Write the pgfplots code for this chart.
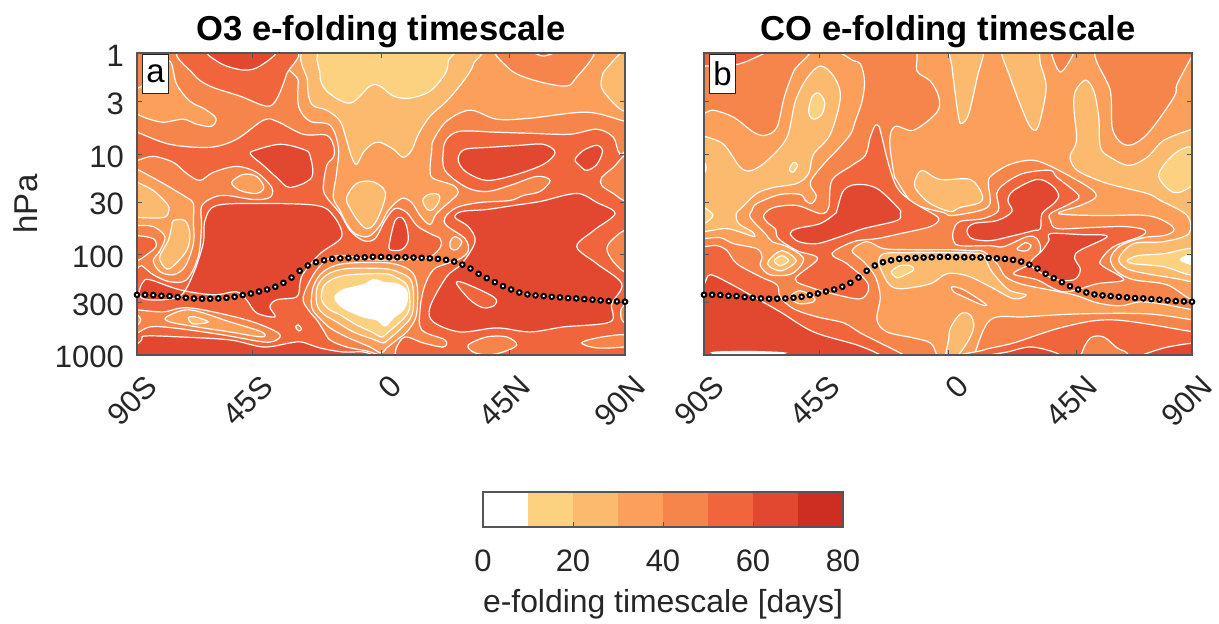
\documentclass[border=0pt]{standalone}
\usepackage{pgfplots}
\usepackage{pgfplotstable}
\usepackage{fontspec}
\setmainfont{Liberation Sans}
\pgfplotsset{compat=1.18}

\definecolor{lev1}{HTML}{FFFFFF}
\definecolor{lev2}{HTML}{FCD17F}
\definecolor{lev3}{HTML}{FBBA6E}
\definecolor{lev4}{HTML}{FB9F5A}
\definecolor{lev5}{HTML}{F6854C}
\definecolor{lev6}{HTML}{F0653B}
\definecolor{lev7}{HTML}{E2472F}
\definecolor{lev8}{HTML}{CE2E21}
\definecolor{txt}{HTML}{262626}
\definecolor{frame}{HTML}{555555}

% tropopause pressure, log10(hPa) against latitude
\pgfplotstableread{
lat logp
-90 2.400
-87 2.400
-84 2.403
-81 2.410
-78 2.413
-75 2.423
-72 2.430
-69 2.436
-66 2.439
-63 2.439
-60 2.436
-57 2.430
-54 2.420
-51 2.403
-48 2.387
-45 2.367
-42 2.347
-39 2.320
-36 2.281
-33 2.228
-30 2.161
-27 2.108
-24 2.075
-21 2.056
-18 2.042
-15 2.036
-12 2.032
-9 2.029
-6 2.026
-3 2.022
0 2.022
3 2.026
6 2.026
9 2.026
12 2.029
15 2.032
18 2.036
21 2.042
24 2.052
27 2.069
30 2.099
33 2.138
36 2.191
39 2.234
42 2.274
45 2.314
48 2.347
51 2.377
54 2.396
57 2.406
60 2.413
63 2.420
66 2.426
69 2.433
72 2.436
75 2.443
78 2.449
81 2.456
84 2.463
87 2.466
90 2.469
}\tropo

\newcommand\reg[2]{\addplot[cont,fill=#1] coordinates {#2};}
\newcommand\ticksize{\fontsize{15.5}{18}\selectfont}

\pgfplotsset{
  cont/.style={draw=white,line width=0.6pt,smooth cycle,tension=0.55},
  panel/.style={
    scale only axis,width=244pt,height=151pt,
    xmin=-90,xmax=90,ymin=-0.01,ymax=3,y dir=reverse,
    axis on top,
    axis line style={frame,line width=0.6pt},
    tick align=inside,major tick length=2.5pt,
    tick style={frame,line width=0.5pt},
    xtick={-90,-47.5,0,47.5,90},
    xticklabels={90S,45S,0,45N,90N},
    ytick={0,0.477,1,1.477,2,2.477,3},
    tick label style={font=\ticksize,text=txt},
    x tick label style={rotate=45,anchor=east,xshift=-0.4pt,yshift=-14.5pt},
    y tick label style={xshift=-3pt,yshift=-1pt},
    title style={font=\fontsize{17.3}{20}\selectfont\bfseries,text=black,yshift=-7pt},
  },
  tp/.style={only marks,mark=*,mark size=1.15pt,
    mark options={fill=white,draw=black,line width=1pt}},
}

\begin{document}
\begin{tikzpicture}
\path[use as bounding box] (-68.5pt,-134.5pt) rectangle (541pt,177.5pt);

% ---------- panel a ----------
\begin{axis}[panel,title={O3 e-folding timescale},
  axis background/.style={fill=lev5},
  yticklabels={\raisebox{-1pt}{1},3,10,30,100,300,1000},
  ylabel={hPa},
  ylabel style={font=\fontsize{16.5}{18}\selectfont,text=txt,at={(axis description cs:-0.228,0.5)},anchor=center}]
% 30-40 days: top and centre
\reg{lev4}{(-29,-.08)(-30.5,.27)(-30.3,.53)(-26.2,.67)(-18.8,.71)(-15.7,.93)(-16.4,1.19)(-17.6,1.43)(-15.1,1.56)(-12.7,1.69)(-9.6,1.79)(-4.7,1.82)(-.4,1.71)(2.7,1.56)(7.6,1.44)(11.3,1.48)(14.4,1.61)(18.1,1.70)(20.5,1.59)(26.7,1.44)(28.5,1.38)(26.7,1.31)(19.3,1.24)(18.1,1.16)(18.7,.96)(19.3,.86)(24.2,.67)(32.8,.56)(42.7,.65)(55,.64)(75.9,.58)(90,.67)(96,.68)(96,-.08)}
\reg{lev4}{(-92.6,.40)(-85.2,.27)(-78.1,.07)(-75.4,.30)(-70.5,.47)(-64.9,.55)(-60.9,.64)(-62.5,.72)(-68,.70)(-72.9,.65)(-80.3,.68)(-86.5,.64)(-89.9,.60)(-92.6,.58)}
\reg{lev3}{(-25,-.08)(-27.1,.27)(-25.6,.50)(-20,.56)(-15.1,.67)(-12.7,.86)(-10.8,1.03)(-9,1.10)(-6.5,.98)(-3.4,.90)(-.4,.88)(4.6,.95)(8.2,1.03)(11.3,.96)(13.8,.80)(18.1,.62)(24.2,.47)(30.4,.27)(34.1,.10)(33.1,-.08)}
\reg{lev2}{(-19.4,-.08)(-22.5,.2)(-20,.37)(-11.4,.49)(-4.1,.32)(-.4,.32)(4.6,.42)(10.7,.44)(18.1,.37)(23.6,.20)(24.8,.07)(24.6,-.08)}
\reg{lev5}{(43.3,-.08)(47,.14)(55,.25)(67.3,.32)(71.6,.25)(77.7,-.08)}
\reg{lev6}{(55,-.05)(59.9,.02)(66,-.05)}
\reg{lev3}{(91.3,-.05)(83.3,.14)(81.4,.24)(82,.37)(90,.57)(93,.3)}
\reg{lev6}{(-73.6,-.05)(-69.2,.20)(-63.1,.32)(-52,.42)(-42.2,.52)(-38.5,.45)(-34.8,.20)(-32.6,-.05)}
\reg{lev7}{(-63.7,-.05)(-59.4,.09)(-50.8,.16)(-44.6,.12)(-39.1,-.05)}
% centre blobs
\reg{lev3}{(-12.7,1.43)(-9,1.29)(-3.4,1.27)(.9,1.34)(1.5,1.44)(-1.6,1.66)(-4.7,1.74)(-7.7,1.69)(-11.4,1.54)}
\reg{lev3}{(15.4,1.46)(17.5,1.40)(21.2,1.40)(21.5,1.46)(19.3,1.55)(17.1,1.55)}
% 50-60 days: both hemispheres
\reg{lev6}{(-92.6,.76)(-89.9,.78)(-77.9,.90)(-63.1,.93)(-53.3,.85)(-43.4,.66)(-38.5,.67)(-28.7,.80)(-20,.81)(-17.3,.93)(-17.6,1.03)(-20,1.11)(-21.3,1.33)(-20,1.43)(-15.1,1.59)(-11.4,1.76)(-6.5,1.86)(-2.2,1.84)(1.5,1.66)(5.2,1.54)(9.5,1.58)(13.2,1.71)(18.1,1.79)(21.8,1.84)(22,1.92)(18.1,2.02)(9.5,2.05)(-2.8,2.05)(-16.4,2.01)(-23.7,2.15)(-28.7,2.42)(-26.8,2.55)(-23.7,2.65)(-21.3,2.75)(-18.8,2.85)(-12.7,2.92)(-2.8,2.98)(-.4,3.08)(-95,3.08)(-95,.76)}
\reg{lev6}{(62.4,1.26)(57.4,1.22)(47.6,1.31)(39,1.37)(31.6,1.33)(23.6,1.16)(23,.96)(24.2,.85)(29.2,.77)(42.7,.78)(55,.79)(69.7,.80)(79.6,.75)(85.7,.83)(88.2,1.00)(95,1.05)(95,3.1)(5.2,3.05)(5.2,3.0)(5.8,2.92)(8.9,2.82)(15.6,2.88)(23,2.92)(23.6,2.85)(15,2.75)(14.4,2.55)(16,2.32)(19.3,2.15)(24.2,2.09)(29.2,2.04)(32.2,1.96)(31,1.84)(24.2,1.71)(23.6,1.63)(27.9,1.53)(36.5,1.48)(47.6,1.46)(52.5,1.41)(58.7,1.37)}
% right edge
\reg{lev5}{(90.6,1.01)(85.7,1.13)(81.4,1.23)(81.4,1.31)(85.7,1.39)(90.6,1.46)(93,1.25)}
\reg{lev5}{(90.6,1.76)(85.7,1.84)(83.3,1.94)(85.7,2.07)(90.6,2.17)(93,1.95)}
\reg{lev5}{(90.6,2.49)(88.5,2.55)(88.8,2.65)(90.6,2.67)(93,2.55)}
% left flank
\reg{lev5}{(-92.6,1.06)(-89.9,1.06)(-84,1.02)(-76.6,1.08)(-71.7,1.19)(-66.8,1.26)(-61.9,1.18)(-53.3,1.12)(-45.9,1.18)(-40.3,1.33)(-41,1.43)(-47.1,1.45)(-56.9,1.41)(-61.9,1.43)(-66.2,1.52)(-66.2,1.72)(-67.4,2.02)(-71.7,2.25)(-77.9,2.27)(-84,2.20)(-88.3,2.11)(-89.9,2.14)(-92.6,2.15)}
\reg{lev6}{(-92.6,1.81)(-89.9,1.81)(-84,1.84)(-83,1.92)(-86.4,2.0)(-89.9,2.06)(-92.6,2.06)}
\reg{lev4}{(-92.6,1.13)(-89.9,1.15)(-80.3,1.29)(-71.7,1.43)(-69.2,1.49)(-69.2,1.66)(-69.2,1.89)(-72.3,2.12)(-76.6,2.20)(-81.5,2.17)(-84,2.06)(-81.5,1.96)(-79.7,1.82)(-84,1.72)(-89.9,1.71)(-92.6,1.71)}
\reg{lev3}{(-92.6,1.26)(-89.9,1.28)(-84,1.36)(-79,1.49)(-78.2,1.56)(-80.3,1.63)(-89.9,1.63)(-92.6,1.63)}
\reg{lev3}{(-76.6,1.66)(-72.3,1.66)(-70.5,1.79)(-71.7,1.96)(-77.9,2.14)(-80.9,2.09)(-81.5,2.01)(-78.5,1.86)(-77.2,1.72)}
\reg{lev4}{(-55.1,1.28)(-50.8,1.20)(-45.9,1.22)(-43.2,1.33)(-45.9,1.39)(-52,1.36)}
% 60-70 days
\reg{lev7}{(-48.1,1.0)(-46.5,.96)(-37.2,.90)(-28.7,.95)(-26.2,1.01)(-25.6,1.23)(-33.6,1.33)(-38.5,1.23)(-43.4,1.11)}
\reg{lev7}{(-64.9,1.66)(-60.6,1.51)(-43.4,1.49)(-23.7,1.51)(-17.6,1.61)(-14.5,1.82)(-22.5,1.99)(-28.7,2.19)(-29.9,2.29)(-31.1,2.42)(-38.5,2.45)(-41,2.52)(-39.1,2.62)(-45.9,2.58)(-49.6,2.45)(-53.3,2.37)(-61.9,2.40)(-74.2,2.35)(-85.2,2.25)(-87.7,2.27)(-89.2,2.37)(-87.7,2.44)(-80.3,2.45)(-73.6,2.40)(-69.2,2.19)(-65.6,1.89)}
\reg{lev7}{(28.5,1.03)(31,.95)(40.2,.93)(51.3,.91)(59.9,.90)(64.2,.98)(59.9,1.10)(48.8,1.21)(39,1.26)(32.2,1.19)(29.2,1.11)}
\reg{lev7}{(71.6,1.05)(74.7,.96)(79.6,.91)(81.7,.97)(79.6,1.10)(75.9,1.16)(73.2,1.11)}
\reg{lev7}{(27.3,1.63)(29.8,1.57)(39,1.55)(48.8,1.51)(58.7,1.47)(72.2,1.39)(79.6,1.48)(86.3,1.59)(78.4,1.76)(72.2,1.92)(79.6,2.09)(88.8,2.29)(85.1,2.49)(84.5,2.67)(67.3,2.72)(55,2.77)(42.7,2.73)(29.2,2.77)(19.3,2.67)(18.1,2.52)(24.2,2.22)(29.8,2.09)(34.7,1.87)(32.2,1.72)}
\reg{lev7}{(3.3,1.86)(5.2,1.66)(7.6,1.63)(9.4,1.71)(10,1.86)(7.6,1.95)(3.3,1.95)}
\reg{lev6}{(27.9,2.29)(30.4,2.28)(41.5,2.42)(42.1,2.50)(37.8,2.53)(32.8,2.45)}
\reg{lev5}{(32.2,2.90)(39,2.82)(46.4,2.82)(50.1,2.90)(45.1,2.97)(39,3.0)(34,2.97)}
\reg{lev5}{(74,2.88)(79.6,2.83)(90,2.80)(93,2.90)(90,2.92)(79.6,2.93)}
\reg{lev4}{(25.5,1.87)(27.3,1.82)(29.8,1.87)(27.9,1.95)(25.8,1.94)}
% lower left
\reg{lev5}{(-92.6,2.55)(-89.9,2.55)(-80.3,2.57)(-70.5,2.53)(-49.6,2.65)(-37.9,2.78)(-38.5,2.85)(-43.4,2.87)(-58.2,2.80)(-76.6,2.73)(-85.2,2.72)(-89.9,2.78)(-92.6,2.78)}
\reg{lev4}{(-79.1,2.62)(-70.5,2.55)(-55.7,2.67)(-44,2.77)(-44,2.82)(-55.7,2.77)(-68,2.72)(-77.9,2.67)}
\reg{lev3}{(-71.1,2.63)(-68.6,2.62)(-63.7,2.67)(-69.2,2.69)}
\reg{lev4}{(-92.6,2.60)(-89.9,2.60)(-88.6,2.65)(-89.9,2.70)(-92.6,2.70)}
\reg{lev7}{(-88.3,2.85)(-86.5,2.81)(-74.2,2.82)(-55.7,2.85)(-43.4,2.92)(-33.6,2.88)(-29.3,2.87)(-22.5,2.93)(-13.9,2.97)(-6.5,2.97)(-2.2,3.02)(-6.5,3.08)(-88.9,3.08)}
\reg{lev5}{(-31.5,2.72)(-30.5,2.70)(-29.3,2.74)(-30.3,2.76)}
% rings round the tropical minimum
\reg{lev4}{(-25.6,2.52)(-25,2.32)(-21.3,2.17)(-13.9,2.09)(1.5,2.08)(8.2,2.12)(11.9,2.19)(13.4,2.32)(13.4,2.52)(12.5,2.65)(9.5,2.77)(5.8,2.85)(2.1,2.93)(0,2.98)(-4.1,2.92)(-12.7,2.82)(-18.8,2.73)(-23.1,2.62)}
\reg{lev3}{(-23.7,2.49)(-23.5,2.32)(-20,2.20)(-12.7,2.14)(1.5,2.14)(7,2.18)(10.7,2.24)(11.9,2.35)(11.9,2.54)(10.7,2.64)(7.6,2.73)(3.9,2.82)(.9,2.88)(-2.2,2.85)(-10.2,2.77)(-16.4,2.67)(-21.3,2.59)}
\reg{lev2}{(-21.9,2.45)(-21.3,2.32)(-17.6,2.24)(-11.4,2.2)(1.5,2.19)(5.8,2.23)(9.2,2.29)(10.5,2.39)(10.5,2.54)(8.9,2.62)(5.8,2.70)(2.7,2.77)(.2,2.82)(-3.4,2.77)(-9,2.70)(-15.1,2.60)(-19.4,2.54)}
\reg{lev1}{(-17,2.42)(-13.9,2.35)(-6.5,2.30)(-2.8,2.25)(1.5,2.28)(5.8,2.29)(9.2,2.35)(9.7,2.45)(8.2,2.55)(4.6,2.63)(1.5,2.71)(-1.6,2.65)(-6.5,2.62)(-12.7,2.55)(-15.7,2.49)}
\addplot[tp] table[x=lat,y=logp] {\tropo};
\node[draw=txt,fill=white,line width=0.5pt,minimum width=12.7pt,minimum height=19.5pt,inner sep=0pt,font=\fontsize{16.5}{18}\selectfont] at (axis cs:-83.2,0.2) {a};
\end{axis}

% ---------- panel b ----------
\begin{axis}[panel,at={(283.5pt,0pt)},title={CO e-folding timescale},
  axis background/.style={fill=lev4},
  yticklabels={}]
\reg{lev5}{(-92.6,.56)(-86.5,.56)(-79.1,.63)(-71.7,.78)(-67.4,.81)(-63.1,.73)(-60.4,.43)(-56.9,.17)(-52.3,-.08)(-92.6,-.08)}
\reg{lev6}{(-92.6,-.05)(-67.4,-.05)(-72.3,.05)(-79.1,.11)(-90.2,.12)(-92.6,.13)}
\reg{lev5}{(9.5,3.02)(15.6,2.65)(28.5,2.62)(48.8,2.59)(73.4,2.59)(90.6,2.65)(96,2.66)(96,3.08)(9.5,3.08)}
% 40-50 days: the main field
\reg{lev5}{(-40.3,-.08)(-36,.05)(-32.3,.10)(-30.8,.27)(-31.7,.47)(-34.2,.67)(-36,.80)(-41,.96)(-45.3,1.08)(-50.8,1.28)(-48.6,1.41)(-50.2,1.49)(-52.6,1.46)(-54.5,1.40)(-61.9,1.40)(-70.5,1.49)(-72.3,1.56)(-72.9,1.63)(-67.4,1.79)(-64.9,1.87)(-59.4,1.92)(-53.3,2.04)(-57.6,2.19)(-65.6,2.20)(-69.2,2.11)(-68.6,2.02)(-70.5,1.94)(-79.1,1.89)(-84,1.83)(-89.9,1.84)(-92.6,1.84)(-96,1.84)(-96,3.08)(-2.8,3.08)(-4.1,3.0)(-6.5,2.88)(-12.7,2.83)(-22.5,2.77)(-26.2,2.65)(-25,2.42)(-26.8,2.22)(-31.1,2.07)(-35.4,1.96)(-29.9,1.87)(-23.7,1.94)(-12.7,1.95)(1.5,1.95)(8.2,1.96)(13.2,1.97)(18.1,2.09)(21.2,2.22)(26.7,2.29)(35.3,2.34)(46.4,2.40)(55,2.48)(63.6,2.51)(71,2.47)(80.8,2.50)(90.6,2.55)(96,2.55)(96,2.3)(90.6,2.45)(80.8,2.30)(68.5,2.25)(62.4,2.17)(59.9,2.04)(63.6,1.91)(72.2,1.83)(79.6,1.81)(83.3,1.76)(81.4,1.69)(73.4,1.61)(55,1.61)(40.8,1.59)(48.8,1.51)(54.4,1.43)(52.5,1.34)(40.2,1.15)(31.6,1.06)(22.9,1.10)(16.1,1.21)(14.9,1.29)(15.5,1.49)(11.8,1.56)(1.4,1.61)(-1.7,1.58)(-9.1,1.53)(-14,1.46)(-18.9,1.26)(-20,1.19)(-21.5,.86)(-19.4,.72)(-12.7,.76)(-4.1,.58)(-3.4,.43)(-6.5,.27)(-11.4,.17)(-13.9,-.08)}
\reg{lev3}{(-12.4,1.29)(-9.7,1.16)(-3,1.25)(8.1,1.25)(12.4,1.39)(11.8,1.48)(4.4,1.53)(.7,1.57)(-6.6,1.49)(-10.9,1.38)}
% 20-30 days
\reg{lev3}{(46.4,.53)(47,.37)(50.7,.26)(53.8,.37)(55.6,.63)(56.2,.93)(59.9,1.03)(66.7,1.11)(73.4,1.03)(79.6,.86)(90,.75)(93,.73)(96,.73)(96,2.28)(90,2.27)(84.5,2.24)(73.4,2.19)(66,2.14)(63,2.04)(68.5,1.89)(79.6,1.87)(88.8,1.79)(88.2,1.61)(78.4,1.46)(73.4,1.39)(58.7,1.29)(48.8,1.18)(45.8,1.10)(45.1,1.01)(47.4,.86)}
\reg{lev2}{(90,.93)(83.3,1.0)(77.7,1.21)(83.3,1.38)(90,1.31)(93.7,1.13)}
\reg{lev2}{(66,2.06)(70,2.01)(79.6,1.99)(90,1.94)(93,2.06)(90,2.2)(79.6,2.12)(68.5,2.09)}
\reg{lev1}{(93,1.99)(90,1.99)(85.7,2.05)(90,2.1)(93,2.1)}
\reg{lev5}{(55.6,-.08)(59.9,.37)(60.8,.76)(66,.91)(73.4,.80)(83.3,.43)(84.5,.30)(90,.02)(91.9,-.08)}
\reg{lev3}{(1.1,-.08)(1.5,.14)(3.9,.63)(5.2,.69)(7.6,.60)(10.7,.24)(12.8,-.08)}
\reg{lev3}{(19.9,-.08)(23,.24)(29.2,.67)(32.2,.76)(34.1,.65)(36.2,.33)(34.1,.10)(32.2,-.08)}
\reg{lev5}{(38.1,-.08)(41.5,.18)(47,-.08)}
\reg{lev3}{(-92.6,.81)(-89.9,.82)(-82.8,.90)(-76.6,1.13)(-72.3,1.16)(-66.2,1.05)(-59.4,.83)(-56.3,.47)(-52,.24)(-47.1,.12)(-42.2,.22)(-39.7,.43)(-43.4,.80)(-49.6,1.0)(-51.4,1.19)(-55.7,1.29)(-64.3,1.33)(-70.5,1.39)(-76,1.53)(-78.1,1.59)(-77.2,1.69)(-72.3,1.77)(-71.5,1.82)(-77.2,1.77)(-82.2,1.74)(-89.9,1.77)(-92.6,1.77)}
\reg{lev2}{(-51.4,.58)(-50.2,.43)(-47.7,.39)(-45.5,.48)(-46.5,.60)(-49.6,.65)}
\reg{lev2}{(-58.5,1.15)(-56.9,1.08)(-55.5,1.11)(-57.2,1.18)}
\reg{lev2}{(-92.6,1.53)(-89.9,1.53)(-86.7,1.61)(-89.9,1.69)(-92.6,1.69)}
\reg{lev1}{(-92.6,1.08)(-89.9,1.08)(-89.2,1.13)(-89.9,1.19)(-92.6,1.19)}
\reg{lev3}{(-66.2,2.06)(-61.3,1.96)(-56,2.06)(-61.3,2.16)(-65.8,2.12)}
\reg{lev2}{(-64.1,2.06)(-61.3,2.01)(-58.8,2.06)(-61.9,2.11)}
% below the tropopause
\reg{lev3}{(-25.6,2.07)(-23.7,1.99)(-13.9,1.98)(1.5,1.98)(11.9,1.99)(13.8,2.04)(16.2,2.17)(22.4,2.35)(28.8,2.40)(24.2,2.44)(15.6,2.32)(7,2.21)(-.4,2.19)(-6.5,2.29)(-17.6,2.34)(-21.9,2.29)(-24.7,2.15)}
\reg{lev2}{(-20.9,2.17)(-17.6,2.11)(-13.9,2.11)(-12.7,2.15)(-15.7,2.20)(-18.8,2.23)}
\reg{lev5}{(1.5,2.32)(5.8,2.35)(13.8,2.49)(12.5,2.50)(5.8,2.42)(2.1,2.37)}
\reg{lev3}{(-1,3.05)(.2,2.85)(.9,2.73)(4.6,2.59)(8.2,2.60)(9.5,2.72)(7,2.88)(2.1,3.05)}
% lower troposphere
\reg{lev6}{(-92.6,1.92)(-89.9,1.92)(-85.2,1.91)(-81.5,1.96)(-77.9,2.09)(-69.2,2.22)(-63.1,2.30)(-61.9,2.42)(-56.9,2.54)(-48.3,2.62)(-38.5,2.68)(-32.3,2.78)(-25,2.88)(-16.4,3)(-13.9,3.08)(-92.6,3.08)}
\reg{lev7}{(-92.6,2.32)(-89.9,2.29)(-87.7,2.20)(-80.3,2.29)(-71.7,2.42)(-61.9,2.57)(-49.6,2.77)(-33.6,2.90)(-25,3)(-22.5,3.08)(-92.6,3.08)}
\reg{lev1}{(-85.2,2.97)(-73,2.965)(-62,2.975)(-62,2.985)(-85,2.985)}
\reg{lev4}{(-57.6,2.40)(-54.5,2.36)(-49.6,2.42)(-49.6,2.47)(-54.5,2.49)(-57.6,2.45)}
\reg{lev6}{(9.5,3.03)(13.2,2.95)(24.2,2.88)(42.7,2.72)(61.1,2.65)(90.6,2.77)(96,2.79)(96,3.08)}
\reg{lev5}{(49.5,2.97)(52.5,2.83)(57.4,2.82)(62.4,2.93)(66,2.98)(66,3.08)(49.5,3.08)}
\reg{lev7}{(11.9,3.02)(21.8,2.97)(30.4,2.92)(39,2.97)(42.7,3.03)(42.7,3.08)(11.9,3.08)}
\reg{lev7}{(69.1,3.03)(79.6,2.93)(90.6,2.88)(95.6,2.88)(95.6,3.08)(69.1,3.08)}
% 50-60 and 60-70 days, southern stratosphere
\reg{lev6}{(-44,1.53)(-47.1,1.59)(-55.7,1.51)(-64.3,1.53)(-68,1.61)(-66.2,1.69)(-63.7,1.74)(-62.5,1.84)(-55.7,1.96)(-48.1,2.04)(-56.3,2.24)(-50.2,2.33)(-41,2.40)(-32.3,2.44)(-29.3,2.35)(-30.5,2.25)(-37.3,2.09)(-42.8,1.99)(-34.8,1.87)(-26.2,1.84)(-17.6,1.79)(-6.5,1.72)(-3.4,1.64)(-7.7,1.56)(-13.9,1.46)(-18.8,1.33)(-21.9,1.10)(-25,.76)(-25.6,.72)(-26.8,.71)(-28.7,.83)(-30.5,1.01)(-35.4,1.11)(-42.8,1.26)}
\reg{lev7}{(-41,1.56)(-38.5,1.36)(-33.6,1.30)(-26.2,1.34)(-18.2,1.54)(-17.6,1.59)(-18.8,1.66)(-31.1,1.74)(-39.7,1.82)(-48.3,1.89)(-55.1,1.87)(-58.2,1.79)(-55.7,1.74)(-47.1,1.69)(-41.6,1.59)}
% 50-60 and 60-70 days, northern stratosphere
\reg{lev6}{(37.6,1.16)(40.2,1.23)(48.2,1.41)(45.1,1.49)(37.8,1.59)(37.8,1.66)(40.2,1.74)(52.5,1.73)(64.8,1.72)(72.2,1.75)(71.6,1.81)(61.1,1.92)(56.2,2.06)(57.4,2.12)(64.8,2.25)(55,2.29)(42.7,2.37)(32.8,2.25)(24.2,2.19)(30.4,2.09)(34.1,1.96)(32.8,1.84)(29.2,1.82)(20.5,1.92)(15.5,1.91)(4.4,1.91)(2,1.86)(2,1.76)(4.4,1.67)(13,1.64)(18.6,1.56)(18,1.39)(21,1.29)(27.8,1.19)}
\reg{lev7}{(37.8,1.79)(48.8,1.80)(58.7,1.82)(47,1.99)(48.8,2.15)(46.4,2.25)(39,2.24)(30.4,2.1)(34.7,1.96)(37.2,1.86)}
\reg{lev5}{(25.5,1.94)(28.5,1.88)(30.6,1.91)(29.2,1.96)(26.7,1.96)}
\reg{lev7}{(22.1,1.46)(24.2,1.36)(32.8,1.25)(38.4,1.31)(40.8,1.41)(39,1.49)(34.7,1.59)(34.1,1.74)(31.6,1.76)(24.2,1.81)(15.6,1.86)(8.9,1.84)(7,1.76)(9.5,1.69)(18.1,1.66)(23.6,1.57)}
\addplot[tp] table[x=lat,y=logp] {\tropo};
\node[draw=txt,fill=white,line width=0.5pt,minimum width=12.7pt,minimum height=19.5pt,inner sep=0pt,font=\fontsize{16.5}{18}\selectfont] at (axis cs:-83.2,0.2) {b};
\end{axis}

% ---------- colour bar ----------
\begin{axis}[scale only axis,at={(173pt,-86pt)},width=180pt,height=17.5pt,
  xmin=0,xmax=80,ymin=0,ymax=1,axis on top,
  axis line style={frame,line width=0.6pt},
  ytick=\empty,xtick={0,20,40,60,80},xtick pos=lower,tick align=inside,
  major tick length=2.5pt,tick style={frame,line width=0.5pt},
  /pgf/number format/assume math mode=true,
  tick label style={font=\ticksize,text=txt,yshift=-8pt},
  xlabel={e-folding timescale [days]},
  xlabel style={font=\fontsize{15.95}{18}\selectfont,text=txt,yshift=-2pt}]
\addplot[fill=lev2,draw=none] coordinates {(10,0)(20,0)(20,1)(10,1)} --cycle;
\addplot[fill=lev3,draw=none] coordinates {(20,0)(30,0)(30,1)(20,1)} --cycle;
\addplot[fill=lev4,draw=none] coordinates {(30,0)(40,0)(40,1)(30,1)} --cycle;
\addplot[fill=lev5,draw=none] coordinates {(40,0)(50,0)(50,1)(40,1)} --cycle;
\addplot[fill=lev6,draw=none] coordinates {(50,0)(60,0)(60,1)(50,1)} --cycle;
\addplot[fill=lev7,draw=none] coordinates {(60,0)(70,0)(70,1)(60,1)} --cycle;
\addplot[fill=lev8,draw=none] coordinates {(70,0)(80,0)(80,1)(70,1)} --cycle;
\end{axis}
\end{tikzpicture}
\end{document}
